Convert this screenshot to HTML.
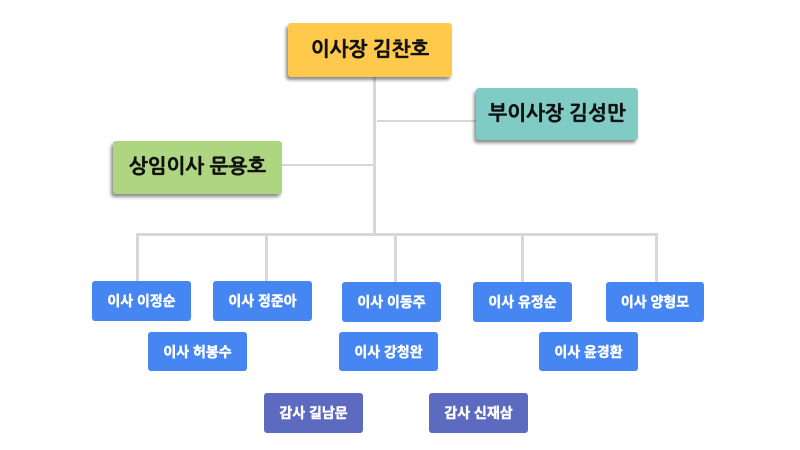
<!DOCTYPE html>
<html><head><meta charset="utf-8"><style>
html,body{margin:0;padding:0;background:#fff;}
body{width:800px;height:450px;position:relative;overflow:hidden;}
.l{position:absolute;background:#d6d8de;}
.b{position:absolute;display:flex;align-items:center;justify-content:center;box-sizing:border-box;border-radius:3px;white-space:nowrap;}
.top{font-family:"Liberation Sans","NanumGothic","Nanum Gothic","Noto Sans CJK KR",sans-serif;font-weight:bold;font-size:20px;color:#111;box-shadow:-2px 3px 3px rgba(0,0,0,0.45);-webkit-text-stroke:0.5px #111;}
.s{font-family:"Liberation Sans","Noto Sans CJK KR",sans-serif;font-weight:bold;font-size:14px;color:#fff;background:#4686f2;border-radius:3px;-webkit-text-stroke:0.4px #fff;}
.p{background:#5c6bc0;}
</style></head><body>
<!-- lines -->
<div class="l" style="left:373px;top:77px;width:3px;height:159px;"></div>
<div class="l" style="left:377px;top:120px;width:99px;height:2px;"></div>
<div class="l" style="left:281px;top:164px;width:93px;height:2px;"></div>
<div class="l" style="left:136px;top:233px;width:522px;height:3px;"></div>
<div class="l" style="left:136px;top:233px;width:3px;height:48px;"></div>
<div class="l" style="left:265px;top:233px;width:3px;height:48px;"></div>
<div class="l" style="left:394px;top:233px;width:3px;height:50px;"></div>
<div class="l" style="left:521px;top:233px;width:3px;height:50px;"></div>
<div class="l" style="left:655px;top:233px;width:3px;height:50px;"></div>

<!-- top boxes -->
<div class="b top" style="left:288px;top:23px;width:164px;height:54px;background:#ffca4c;">이사장 김찬호</div>
<div class="b top" style="left:476px;top:88px;width:162px;height:52px;background:#80cbc4;">부이사장 김성만</div>
<div class="b top" style="left:113px;top:141px;width:169px;height:53px;background:#aed581;">상임이사 문용호</div>

<!-- directors -->
<div class="b s" style="left:92px;top:281px;width:99px;height:40px;">이사 이정순</div>
<div class="b s" style="left:213px;top:281px;width:99px;height:40px;">이사 정준아</div>
<div class="b s" style="left:342px;top:282px;width:99px;height:40px;">이사 이동주</div>
<div class="b s" style="left:473px;top:282px;width:99px;height:40px;">이사 유정순</div>
<div class="b s" style="left:606px;top:282px;width:98px;height:40px;">이사 양형모</div>
<div class="b s" style="left:148px;top:332px;width:99px;height:39px;">이사 허봉수</div>
<div class="b s" style="left:339px;top:332px;width:99px;height:39px;">이사 강청완</div>
<div class="b s" style="left:539px;top:332px;width:99px;height:39px;">이사 윤경환</div>

<!-- auditors -->
<div class="b s p" style="left:264px;top:393px;width:99px;height:40px;">감사 길남문</div>
<div class="b s p" style="left:429px;top:393px;width:99px;height:40px;">감사 신재삼</div>
</body></html>
